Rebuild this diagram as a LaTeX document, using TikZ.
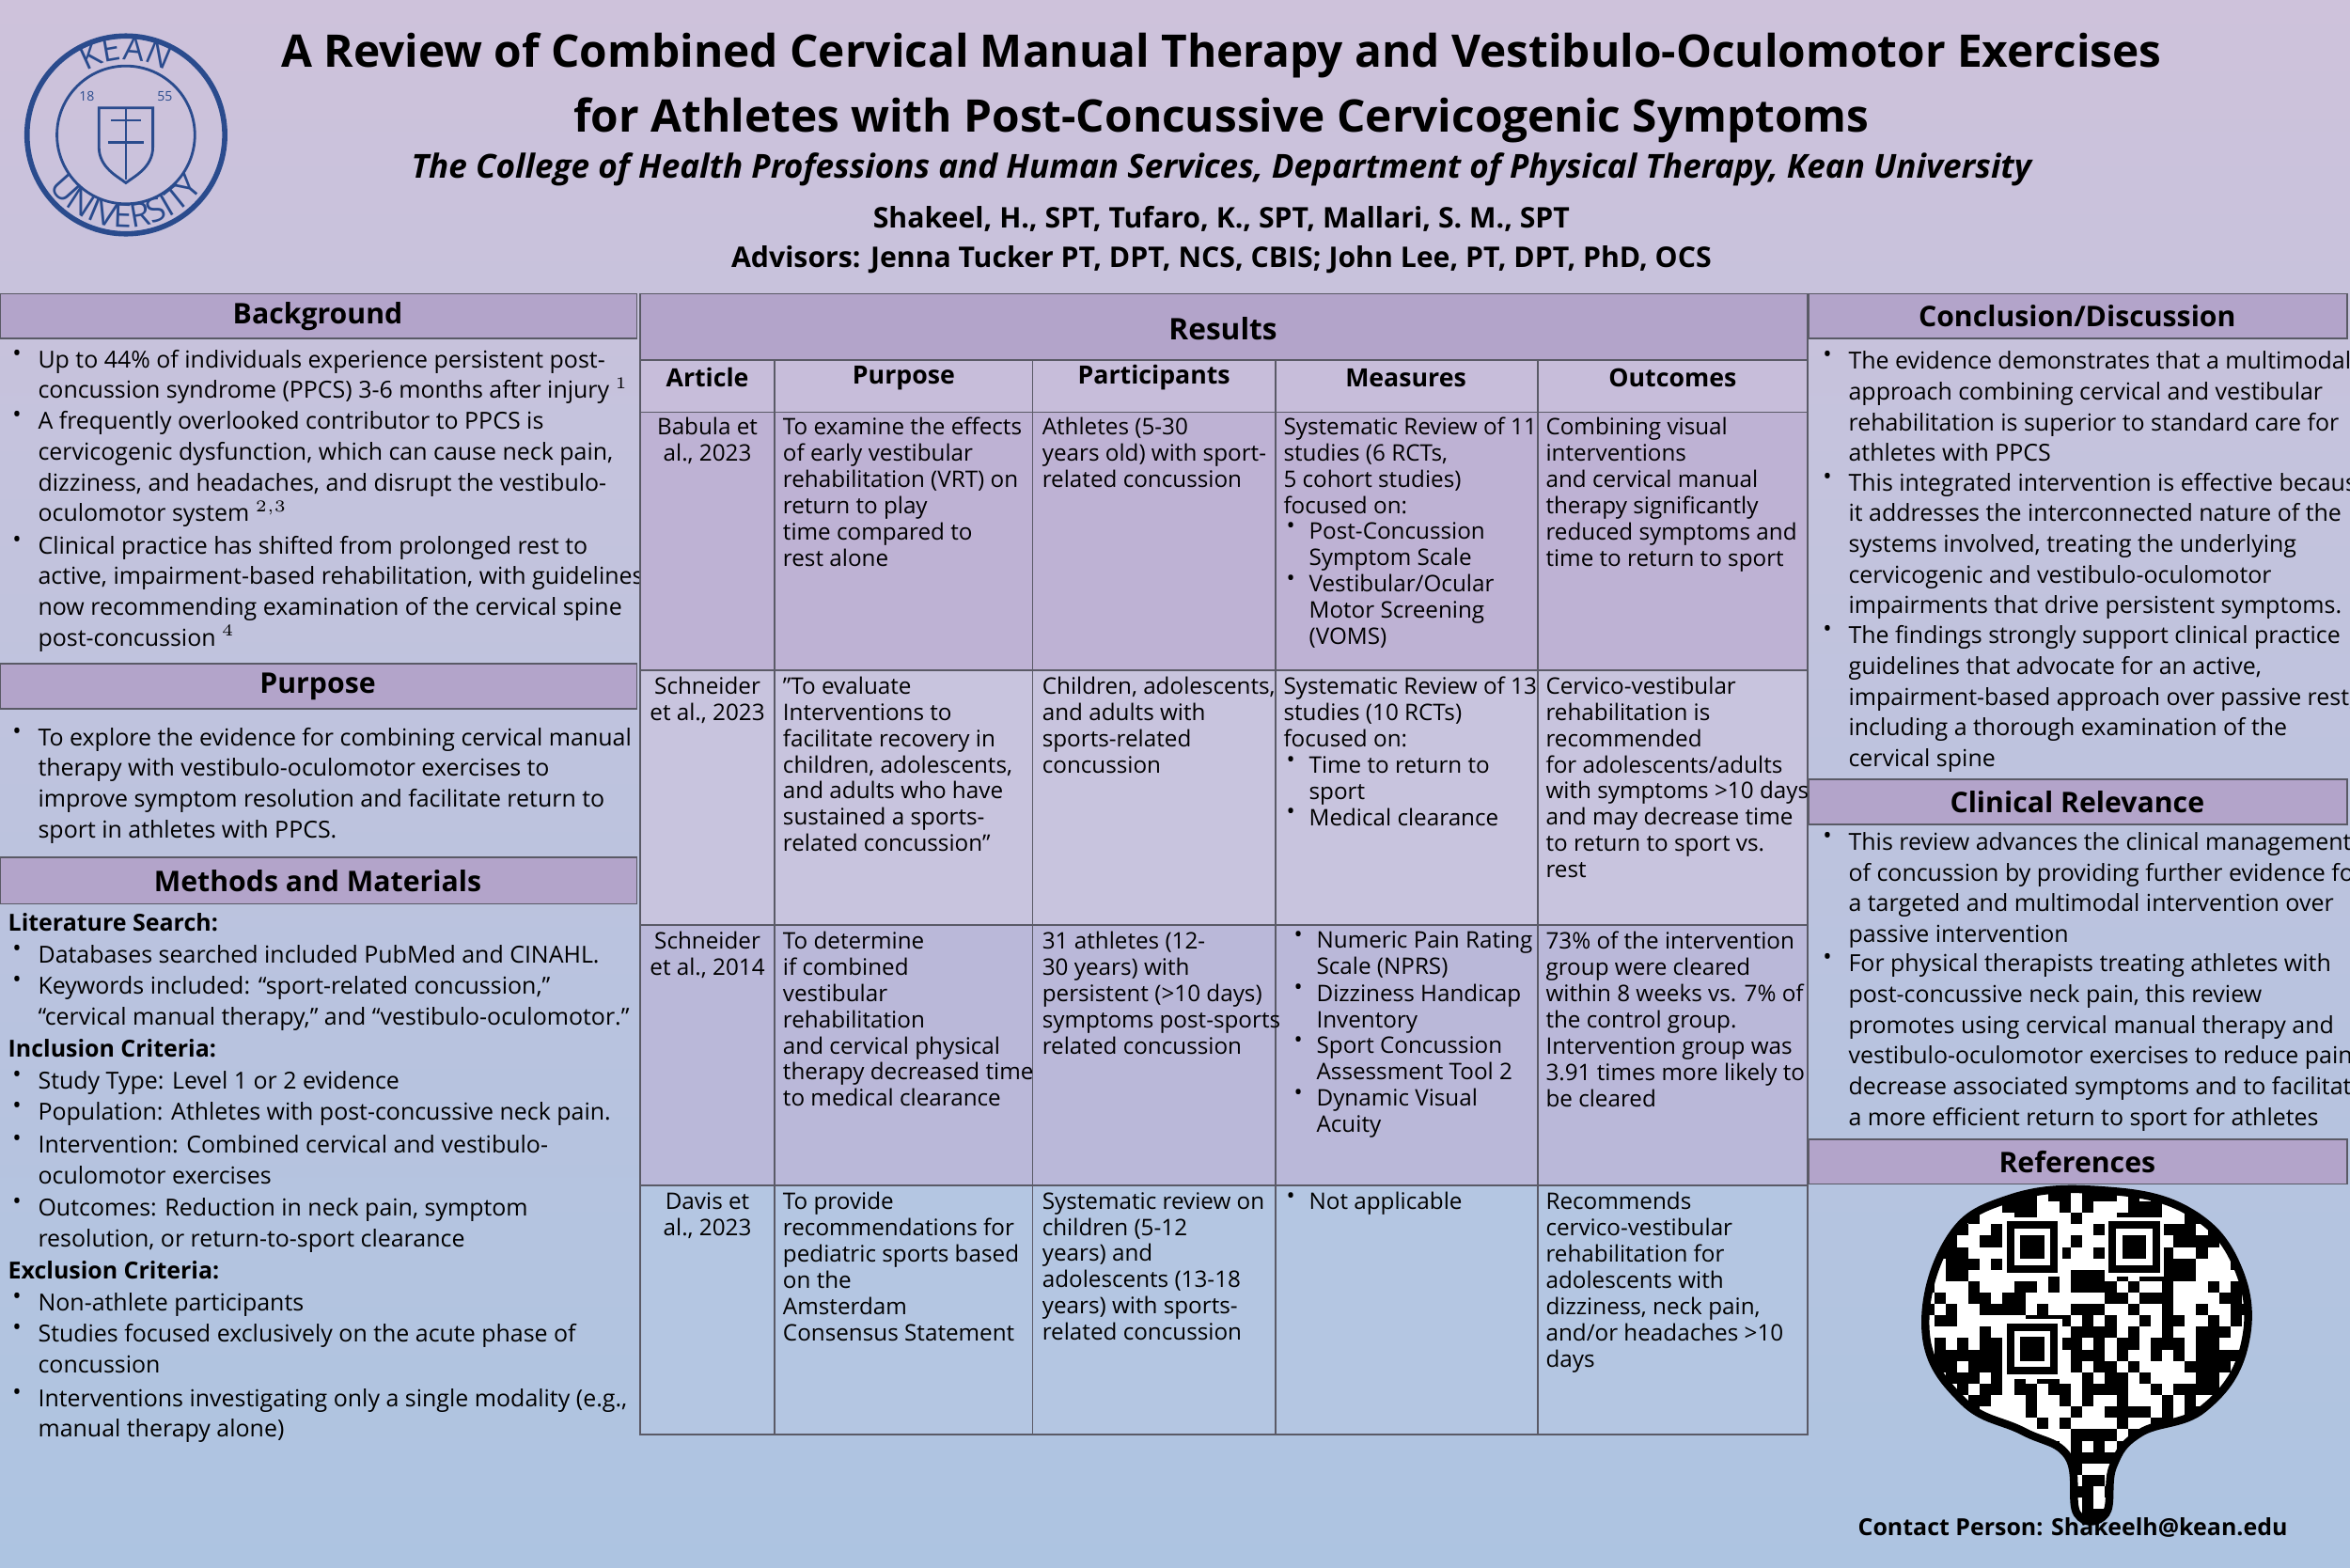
\documentclass[tikz,border=0pt]{standalone}
\usepackage{fontspec}
\setmainfont{Open Sans}
\usetikzlibrary{decorations.text}
\definecolor{hdr}{HTML}{B3A4CA}
\definecolor{bgtop}{HTML}{CEC2DB}
\definecolor{bgbot}{HTML}{ADC4E1}
\definecolor{kean}{HTML}{2A4B8D}
\definecolor{grid}{HTML}{5A5A66}
\tikzset{
 lt/.style={font=\fontsize{7.1}{9.3}\selectfont,inner sep=0pt,align=left,anchor=north west,text=black},
 tt/.style={font=\fontsize{6.9}{7.95}\selectfont,inner sep=0pt,align=left,anchor=north west,text=black},
 ttc/.style={font=\fontsize{6.9}{7.95}\selectfont,inner sep=0pt,align=center,anchor=north,text=black},
 ht/.style={font=\fontsize{8.6}{10}\selectfont\bfseries,inner sep=0pt},
 ch/.style={font=\fontsize{7.6}{9}\selectfont\bfseries,inner sep=0pt},
 hbox/.style={draw=grid,fill=hdr,line width=0.5pt},
 tl/.style={draw=grid,line width=0.5pt}
}
\newcommand\LB[4]{\node[lt] (#1b) at (#2-17,-#3+8) {\textbullet}; \node[lt] (#1) at (#2,-#3+8) {#4};}
\newcommand\TB[4]{\node[tt] (#1b) at (#2-15,-#3+7) {\textbullet}; \node[tt] (#1) at (#2,-#3+7) {#4};}
\begin{document}
\begin{tikzpicture}[x=0.01594cm,y=0.01594cm]
\useasboundingbox (0,0) rectangle (1568,-1046);
\shade[top color=bgtop,bottom color=bgbot] (0,0) rectangle (1568,-1046);
% logo
\begin{scope}[shift={(84,-90)},kean]
\draw[line width=1.6pt] (0,0) circle (66);
\draw[line width=0.8pt] (0,0) circle (46);
\path[decorate,decoration={text along path,text={KEAN},text align=center,text color=kean}] (150:50) arc (150:30:50);
\path[decorate,decoration={text along path,text={UNIVERSITY},text align=center,text color=kean}] (195:62) arc (195:345:62);
\draw[line width=0.8pt] (-18,18) -- (18,18) -- (18,-8) .. controls (18,-22) and (5,-28) .. (0,-32) .. controls (-5,-28) and (-18,-22) .. (-18,-8) -- cycle;
\draw[line width=0.6pt] (-10,10) -- (10,10) (0,18) -- (0,-30) (-12,-5) -- (12,-5);
\node[font=\fontsize{4}{4}\selectfont,text=kean] (l18) at (-26,26) {18};
\node[font=\fontsize{4}{4}\selectfont,text=kean] (l55) at (26,26) {55};
\end{scope}
% title
\node[font=\fontsize{13.6}{16}\selectfont\bfseries,inner sep=0] (t1) at (815,-37) {A Review of Combined Cervical Manual Therapy and Vestibulo-Oculomotor Exercises};
\node[font=\fontsize{13.6}{16}\selectfont\bfseries,inner sep=0] (t2) at (815,-80) {for Athletes with Post-Concussive Cervicogenic Symptoms};
\node[font=\fontsize{10}{12}\selectfont\bfseries\itshape,inner sep=0] (t3) at (815,-113) {The College of Health Professions and Human Services, Department of Physical Therapy, Kean University};
\node[font=\fontsize{8.6}{10}\selectfont\bfseries,inner sep=0] (t4) at (815,-146) {Shakeel, H., SPT, Tufaro, K., SPT, Mallari, S. M., SPT};
\node[font=\fontsize{8.6}{10}\selectfont\bfseries,inner sep=0] (t5) at (815,-173) {Advisors: Jenna Tucker PT, DPT, NCS, CBIS; John Lee, PT, DPT, PhD, OCS};
% left headers
\path[hbox] (0,-196) rectangle (425,-226); \node[ht] (hbg) at (212,-211) {Background};
\path[hbox] (0,-443) rectangle (425,-473); \node[ht] (hpu) at (212,-458) {Purpose};
\path[hbox] (0,-572) rectangle (425,-603); \node[ht] (hme) at (212,-588) {Methods and Materials};
\LB{b1}{25}{241}{Up to 44\% of individuals experience persistent post-\\concussion syndrome (PPCS) 3-6 months after injury $^{\scriptscriptstyle 1}$}
\LB{b2}{25}{282}{A frequently overlooked contributor to PPCS is\\cervicogenic dysfunction, which can cause neck pain,\\dizziness, and headaches, and disrupt the vestibulo-\\oculomotor system $^{\scriptscriptstyle 2,3}$}
\LB{b3}{25}{365}{Clinical practice has shifted from prolonged rest to\\active, impairment-based rehabilitation, with guidelines\\now recommending examination of the cervical spine\\post-concussion $^{\scriptscriptstyle 4}$}
\LB{p1}{25}{493}{To explore the evidence for combining cervical manual\\therapy with vestibulo-oculomotor exercises to\\improve symptom resolution and facilitate return to\\sport in athletes with PPCS.}
\node[lt] (ls) at (5,-617+8) {\bfseries Literature Search:};
\LB{m1}{25}{638}{Databases searched included PubMed and CINAHL.}
\LB{m2}{25}{659}{Keywords included: “sport-related concussion,”\\“cervical manual therapy,” and “vestibulo-oculomotor.”}
\node[lt] (ic) at (5,-701+8) {\bfseries Inclusion Criteria:};
\LB{m3}{25}{722}{Study Type: Level 1 or 2 evidence}
\LB{m4}{25}{743}{Population: Athletes with post-concussive neck pain.}
\LB{m5}{25}{765}{Intervention: Combined cervical and vestibulo-\\oculomotor exercises}
\LB{m6}{25}{807}{Outcomes: Reduction in neck pain, symptom\\resolution, or return-to-sport clearance}
\node[lt] (ec) at (5,-849+8) {\bfseries Exclusion Criteria:};
\LB{m7}{25}{870}{Non-athlete participants}
\LB{m8}{25}{891}{Studies focused exclusively on the acute phase of\\concussion}
\LB{m9}{25}{934}{Interventions investigating only a single modality (e.g.,\\manual therapy alone)}
% right
\path[hbox] (1207,-196) rectangle (1566,-226); \node[ht] (hco) at (1386,-211) {Conclusion/Discussion};
\path[hbox] (1207,-520) rectangle (1566,-550); \node[ht] (hcl) at (1386,-535) {Clinical Relevance};
\path[hbox] (1207,-760) rectangle (1566,-790); \node[ht] (hre) at (1386,-775) {References};
\LB{c1}{1233}{242}{The evidence demonstrates that a multimodal\\approach combining cervical and vestibular\\rehabilitation is superior to standard care for\\athletes with PPCS}
\LB{c2}{1233}{323}{This integrated intervention is effective because\\it addresses the interconnected nature of the\\systems involved, treating the underlying\\cervicogenic and vestibulo-oculomotor\\impairments that drive persistent symptoms.}
\LB{c3}{1233}{425}{The findings strongly support clinical practice\\guidelines that advocate for an active,\\impairment-based approach over passive rest,\\including a thorough examination of the\\cervical spine}
\LB{r1}{1233}{563}{This review advances the clinical management\\of concussion by providing further evidence for\\a targeted and multimodal intervention over\\passive intervention}
\LB{r2}{1233}{644}{For physical therapists treating athletes with\\post-concussive neck pain, this review\\promotes using cervical manual therapy and\\vestibulo-oculomotor exercises to reduce pain,\\decrease associated symptoms and to facilitate\\a more efficient return to sport for athletes}
\node[font=\fontsize{7.1}{9}\selectfont\bfseries,inner sep=0] (contact) at (1383,-1019) {Contact Person: Shakeelh@kean.edu};
% brain QR
\begin{scope}
\path[clip] plot[smooth cycle,tension=0.7] coordinates {(1300,-828) (1340,-800) (1400,-794) (1460,-808) (1494,-848) (1497,-900) (1470,-940) (1428,-956) (1410,-978) (1405,-1010) (1386,-1010) (1380,-972) (1350,-955) (1310,-935) (1285,-890)};
\fill[white] (1280,-790) rectangle (1500,-1015);
\pgfmathsetseed{7}
\foreach \i in {0,...,28}{\foreach \j in {0,...,29}{
 \pgfmathrandominteger{\r}{0}{1}
 \ifnum\r=1 \fill[black] (1283+\i*7.6,-794-\j*7.6) rectangle ++(7.6,-7.6);\fi}}
\foreach \p in {(1336,-812),(1336,-880),(1404,-812)}{
 \fill[white] \p rectangle ++(40,-40);
 \fill[black] \p ++(3,-3) rectangle ++(34,-34);
 \fill[white] \p ++(8,-8) rectangle ++(24,-24);
 \fill[black] \p ++(12,-12) rectangle ++(16,-16);}
\end{scope}
\draw[line width=2.4pt] plot[smooth cycle,tension=0.7] coordinates {(1300,-828) (1340,-800) (1400,-794) (1460,-808) (1494,-848) (1497,-900) (1470,-940) (1428,-956) (1410,-978) (1405,-1010) (1386,-1010) (1380,-972) (1350,-955) (1310,-935) (1285,-890)};
% table
\path[fill=hdr] (427,-196) rectangle (1206,-240);
\path[fill={rgb,255:red,199;green,189;blue,218}] (427,-240) rectangle (1206,-275);
\path[fill={rgb,255:red,190;green,178;blue,212}] (427,-275) rectangle (1206,-447);
\path[fill={rgb,255:red,200;green,196;blue,222}] (427,-447) rectangle (1206,-617);
\path[fill={rgb,255:red,186;green,184;blue,217}] (427,-617) rectangle (1206,-791);
\path[fill={rgb,255:red,180;green,198;blue,226}] (427,-791) rectangle (1206,-957);
\draw[tl] (427,-196) rectangle (1206,-957);
\foreach \yy in {240,275,447,617,791}{\draw[tl] (427,-\yy) -- (1206,-\yy);}
\foreach \xx in {517,689,851,1026}{\draw[tl] (\xx,-240) -- (\xx,-957);}
\node[font=\fontsize{9}{10}\selectfont\bfseries,inner sep=0] (res) at (816,-219) {Results};
\node[ch] (ca) at (472,-252) {Article};
\node[ch] (cp) at (603,-252) {Purpose};
\node[ch] (cpa) at (770,-252) {Participants};
\node[ch] (cm) at (938,-252) {Measures};
\node[ch] (co) at (1116,-252) {Outcomes};
% row 1
\node[ttc] (a1) at (472,-285+7) {Babula et\\al., 2023};
\node[tt] (p1r) at (522,-285+7) {To examine the effects\\of early vestibular\\rehabilitation (VRT) on\\return to play\\time compared to\\rest alone};
\node[tt] (q1) at (695,-285+7) {Athletes (5-30\\years old) with sport-\\related concussion};
\node[tt] (s1) at (856,-285+7) {Systematic Review of 11\\studies (6 RCTs,\\5 cohort studies)\\focused on:};
\TB{s1a}{873}{355}{Post-Concussion\\Symptom Scale}
\TB{s1b}{873}{390}{Vestibular/Ocular\\Motor Screening\\(VOMS)}
\node[tt] (o1) at (1031,-285+7) {Combining visual\\interventions\\and cervical manual\\therapy significantly\\reduced symptoms and\\time to return to sport};
% row 2
\node[ttc] (a2) at (472,-458+7) {Schneider\\et al., 2023};
\node[tt] (p2r) at (522,-458+7) {"To evaluate\\Interventions to\\facilitate recovery in\\children, adolescents,\\and adults who have\\sustained a sports-\\related concussion"};
\node[tt] (q2) at (695,-458+7) {Children, adolescents,\\and adults with\\sports-related\\concussion};
\node[tt] (s2) at (856,-458+7) {Systematic Review of 13\\studies (10 RCTs)\\focused on:};
\TB{s2a}{873}{511}{Time to return to\\sport}
\TB{s2b}{873}{546}{Medical clearance}
\node[tt] (o2) at (1031,-458+7) {Cervico-vestibular\\rehabilitation is\\recommended\\for adolescents/adults\\with symptoms >10 days\\and may decrease time\\to return to sport vs.\\rest};
% row 3
\node[ttc] (a3) at (472,-628+7) {Schneider\\et al., 2014};
\node[tt] (p3r) at (522,-628+7) {To determine\\if combined\\vestibular\\rehabilitation\\and cervical physical\\therapy decreased time\\to medical clearance};
\node[tt] (q3) at (695,-628+7) {31 athletes (12-\\30 years) with\\persistent (>10 days)\\symptoms post-sports\\related concussion};
\TB{s3a}{878}{628}{Numeric Pain Rating\\Scale (NPRS)}
\TB{s3b}{878}{663}{Dizziness Handicap\\Inventory}
\TB{s3c}{878}{698}{Sport Concussion\\Assessment Tool 2}
\TB{s3d}{878}{733}{Dynamic Visual\\Acuity}
\node[tt] (o3) at (1031,-628+7) {73\% of the intervention\\group were cleared\\within 8 weeks vs. 7\% of\\the control group.\\Intervention group was\\3.91 times more likely to\\be cleared};
% row 4
\node[ttc] (a4) at (472,-802+7) {Davis et\\al., 2023};
\node[tt] (p4r) at (522,-802+7) {To provide\\recommendations for\\pediatric sports based\\on the\\Amsterdam\\Consensus Statement};
\node[tt] (q4) at (695,-802+7) {Systematic review on\\children (5-12\\years) and\\adolescents (13-18\\years) with sports-\\related concussion};
\TB{s4a}{873}{802}{Not applicable}
\node[tt] (o4) at (1031,-802+7) {Recommends\\cervico-vestibular\\rehabilitation for\\adolescents with\\dizziness, neck pain,\\and/or headaches >10\\days};
\end{tikzpicture}
\end{document}
